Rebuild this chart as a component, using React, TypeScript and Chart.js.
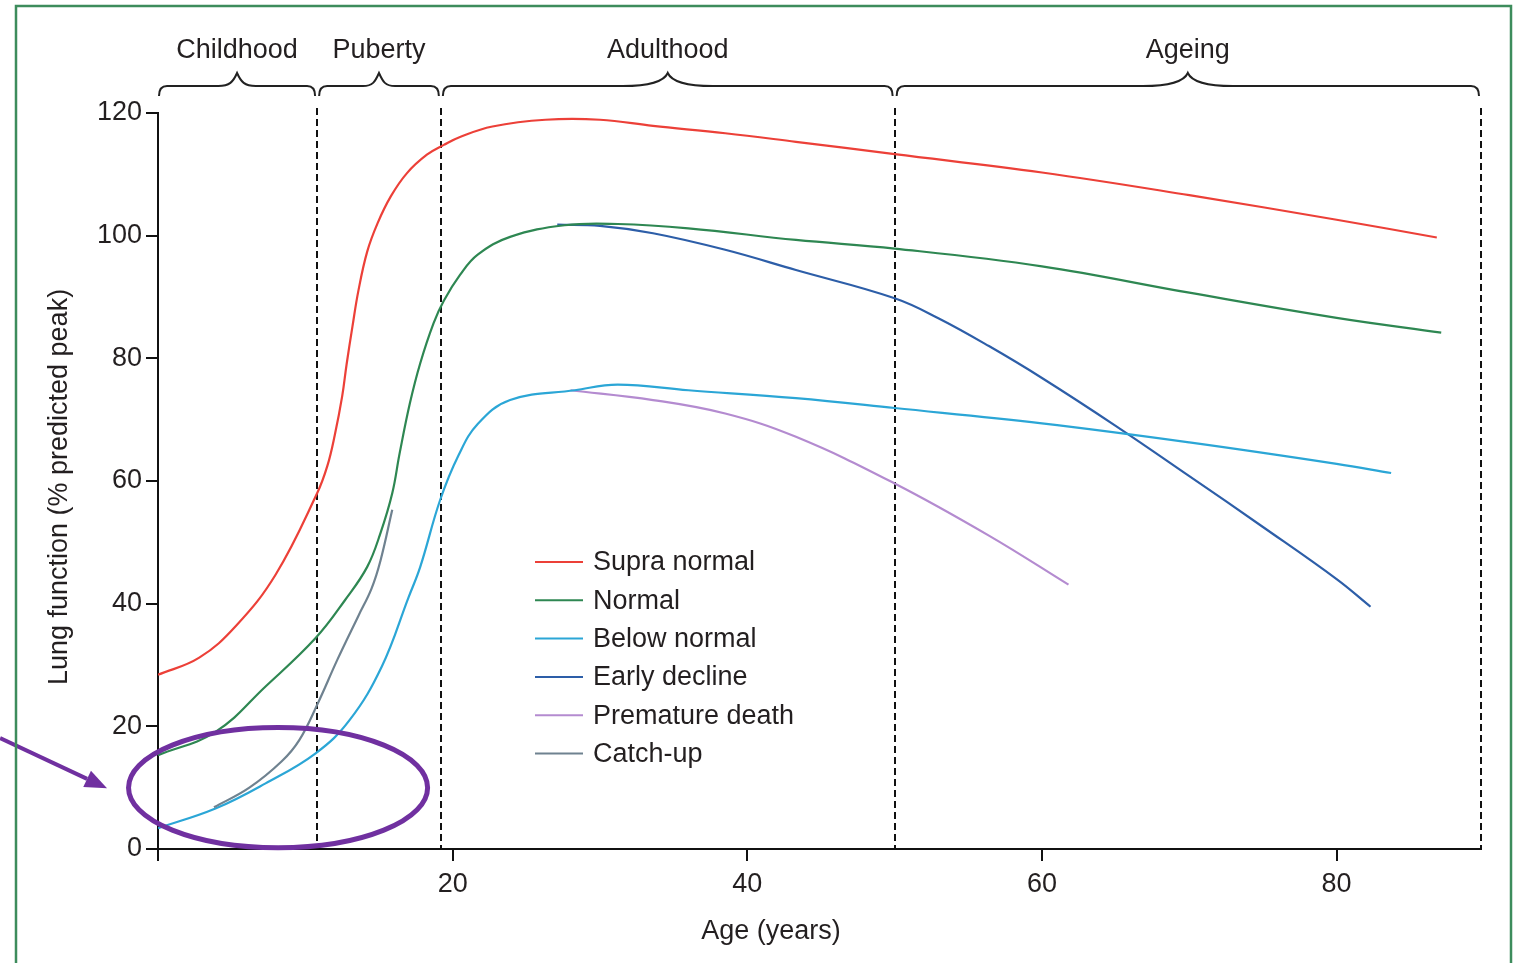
import React, { useEffect, useRef } from 'react';
import { Chart, registerables } from 'chart.js';

Chart.register(...registerables);

// ---- Data (age in years, lung function in % predicted peak) ----
const supraAge = [0, 2.8, 5.3, 8.0, 10.8, 11.5, 12.0, 12.5, 12.8, 13.2, 13.6, 14.2, 14.9, 15.8, 16.9, 18.25, 19.4, 20.5, 22.7, 26.3, 30.0, 33.6, 38.5, 43.3, 50.0, 60.0, 70.0, 80.0, 86.8];
const supraVal = [28.4, 31.2, 36.4, 44.8, 58.0, 62.5, 67.5, 73.8, 79.0, 85.2, 91.0, 97.4, 102.0, 106.4, 110.2, 113.2, 114.8, 116.1, 117.8, 118.9, 118.9, 117.9, 116.7, 115.3, 113.3, 110.3, 106.6, 102.6, 99.7];

const normalAge = [0, 3.9, 7.3, 10.7, 12.7, 14.2, 15.1, 15.9, 16.4, 17.1, 17.8, 18.7, 19.4, 20.5, 21.7, 23.9, 27.6, 31.2, 36.0, 43.3, 50.0, 60.0, 70.0, 80.0, 87.1];
const normalVal = [15.3, 19.1, 26.5, 34.4, 40.6, 46.0, 51.5, 58.0, 64.5, 72.7, 79.2, 85.7, 89.4, 93.6, 96.9, 99.8, 101.7, 101.9, 101.2, 99.3, 97.9, 95.0, 90.7, 86.6, 84.2];

const belowAge = [0, 3.9, 7.3, 10.7, 13.0, 15.2, 17.0, 17.8, 19.15, 20.4, 21.7, 23.9, 28.3, 31.2, 36.0, 43.3, 50.0, 60.0, 70.0, 80.0, 83.7];
const belowVal = [3.4, 6.6, 10.7, 15.6, 21.0, 29.8, 41.0, 46.0, 56.9, 64.2, 69.3, 73.2, 74.8, 75.7, 74.8, 73.5, 71.9, 69.4, 66.3, 62.8, 61.3];

const earlyAge = [27.1, 30.0, 33.6, 38.5, 43.3, 50.0, 53.0, 56.4, 60.0, 65.0, 70.0, 75.0, 80.0, 82.3];
const earlyVal = [101.8, 101.6, 100.4, 97.7, 94.4, 89.8, 86.5, 82.0, 76.8, 69.0, 60.8, 52.5, 44.0, 39.5];

const prematureAge = [28.0, 33.6, 38.5, 43.3, 50.0, 56.4, 61.8];
const prematureVal = [74.8, 73.2, 71.0, 67.2, 59.6, 51.1, 43.1];

const catchAge = [3.8, 6.2, 8.4, 9.6, 10.8, 12.2, 13.6, 14.5, 15.1, 15.9];
const catchVal = [6.8, 10.0, 14.3, 17.8, 23.5, 31.0, 38.0, 42.5, 47.0, 55.3];

const seriesLabels = ['Supra normal', 'Normal', 'Below normal', 'Early decline', 'Premature death', 'Catch-up'];
const seriesColors = ['#ec4038', '#2e8752', '#2ba6d6', '#2d5ea8', '#b48bd0', '#6f8290'];

const phaseLabels = ['Childhood', 'Puberty', 'Adulthood', 'Ageing'];
const phaseBounds = [0, 10.8, 19.2, 50, 89.8];

const xTicks = [0, 20, 40, 60, 80];
const yTicks = [0, 20, 40, 60, 80, 100, 120];

const xTitle = 'Age (years)';
const yTitle = 'Lung function (% predicted peak)';

const FONT = '"Liberation Sans", Arial, sans-serif';
const TEXT = '#231f20';

const toPts = (a: number[], v: number[]) => a.map((x, i) => ({ x, y: v[i] }));

const decorPlugin = {
  id: 'decor',
  beforeDatasetsDraw(chart: any) {
    const { ctx, chartArea, scales } = chart;
    const x = scales.x;
    ctx.save();
    ctx.strokeStyle = '#111';
    ctx.lineWidth = 2;
    ctx.setLineDash([7, 4]);
    for (let i = 1; i < phaseBounds.length; i++) {
      const px = Math.round(x.getPixelForValue(phaseBounds[i]));
      ctx.beginPath();
      ctx.moveTo(px, chartArea.top - 5);
      ctx.lineTo(px, chartArea.bottom);
      ctx.stroke();
    }
    ctx.restore();
  },
  afterDraw(chart: any) {
    const { ctx, chartArea, scales } = chart;
    const x = scales.x;
    const y = scales.y;
    ctx.save();

    // Axis titles
    ctx.fillStyle = TEXT;
    ctx.font = `27px ${FONT}`;
    ctx.textAlign = 'center';
    ctx.textBaseline = 'middle';
    ctx.fillText(xTitle, 771, 932);
    ctx.save();
    ctx.translate(60, 487);
    ctx.rotate(-Math.PI / 2);
    ctx.fillText(yTitle, 0, 0);
    ctx.restore();

    // Phase braces and labels
    const by = chartArea.top - 27;
    for (let i = 0; i < phaseLabels.length; i++) {
      const x0 = x.getPixelForValue(phaseBounds[i]) + (i === 0 ? 1 : 2);
      const x1 = x.getPixelForValue(phaseBounds[i + 1]) - 2;
      const mid = (x0 + x1) / 2;
      const len = x1 - x0;
      const hw = Math.max(16, Math.min(45, len * 0.12));
      ctx.strokeStyle = '#222';
      ctx.lineWidth = 2;
      ctx.setLineDash([]);
      ctx.beginPath();
      ctx.moveTo(x0, by + 10);
      ctx.quadraticCurveTo(x0, by, x0 + 8, by);
      ctx.lineTo(mid - hw, by);
      ctx.bezierCurveTo(mid - hw * 0.4, by, mid - 4, by - 4, mid, by - 13);
      ctx.bezierCurveTo(mid + 4, by - 4, mid + hw * 0.4, by, mid + hw, by);
      ctx.lineTo(x1 - 8, by);
      ctx.quadraticCurveTo(x1, by, x1, by + 10);
      ctx.stroke();

      ctx.fillStyle = TEXT;
      ctx.font = `27px ${FONT}`;
      ctx.textAlign = 'center';
      ctx.textBaseline = 'alphabetic';
      ctx.fillText(phaseLabels[i], mid, by - 28);
    }

    // Legend
    const lx = 535;
    const ly = 562;
    const step = 38.3;
    chart.data.datasets.forEach((ds: any, i: number) => {
      const yy = ly + i * step;
      ctx.strokeStyle = ds.borderColor;
      ctx.lineWidth = 2;
      ctx.beginPath();
      ctx.moveTo(lx, yy);
      ctx.lineTo(lx + 48, yy);
      ctx.stroke();
      ctx.fillStyle = TEXT;
      ctx.font = `27px ${FONT}`;
      ctx.textAlign = 'left';
      ctx.textBaseline = 'middle';
      ctx.fillText(ds.label, lx + 58, yy + 1);
    });

    // Highlight ellipse (in data units)
    const cx = x.getPixelForValue(8.15);
    const cy = y.getPixelForValue(10.0);
    const rx = x.getPixelForValue(8.15 + 10.15) - cx;
    const ry = cy - y.getPixelForValue(10.0 + 9.8);
    ctx.strokeStyle = '#7030a0';
    ctx.lineWidth = 5;
    ctx.beginPath();
    ctx.ellipse(cx, cy, rx, ry, 0, 0, Math.PI * 2);
    ctx.stroke();

    // Arrow
    const ax0 = x.getPixelForValue(-10.72);
    const ay0 = y.getPixelForValue(18.1);
    const ax1 = x.getPixelForValue(-3.46);
    const ay1 = y.getPixelForValue(9.9);
    const ang = Math.atan2(ay1 - ay0, ax1 - ax0);
    const hl = 22;
    const hwid = 9;
    const bx = ax1 - hl * Math.cos(ang);
    const byy = ay1 - hl * Math.sin(ang);
    ctx.lineWidth = 4;
    ctx.beginPath();
    ctx.moveTo(ax0, ay0);
    ctx.lineTo(bx, byy);
    ctx.stroke();
    ctx.fillStyle = '#7030a0';
    ctx.beginPath();
    ctx.moveTo(ax1, ay1);
    ctx.lineTo(bx + hwid * Math.sin(ang), byy - hwid * Math.cos(ang));
    ctx.lineTo(bx - hwid * Math.sin(ang), byy + hwid * Math.cos(ang));
    ctx.closePath();
    ctx.fill();

    // Frame
    ctx.strokeStyle = '#3d8c5c';
    ctx.lineWidth = 2.5;
    ctx.strokeRect(16, 6, 1495, 1000);

    ctx.restore();
  },
};

export default function App() {
  const ref = useRef<HTMLCanvasElement | null>(null);

  useEffect(() => {
    if (!ref.current) return;
    const allAges = [supraAge, normalAge, belowAge, earlyAge, prematureAge, catchAge];
    const allVals = [supraVal, normalVal, belowVal, earlyVal, prematureVal, catchVal];
    const datasets = seriesLabels.map((label, i) => ({
      label,
      data: toPts(allAges[i], allVals[i]),
      borderColor: seriesColors[i],
      backgroundColor: seriesColors[i],
      borderWidth: 2.2,
      pointRadius: 0,
      fill: false,
      tension: 0.4,
      order: i === 5 ? -1 : i,
    }));

    const chart = new Chart(ref.current, {
      type: 'line',
      data: { datasets },
      options: {
        responsive: false,
        animation: false,
        devicePixelRatio: 1,
        layout: { padding: { left: 0, right: 38, top: 113, bottom: 0 } },
        plugins: { legend: { display: false }, tooltip: { enabled: false } },
        scales: {
          x: {
            type: 'linear',
            min: 0,
            max: phaseBounds[phaseBounds.length - 1],
            afterBuildTicks: (s: any) => { s.ticks = xTicks.map((v) => ({ value: v })); },
            afterFit: (s: any) => { s.height = 114; },
            ticks: {
              autoSkip: false,
              maxRotation: 0,
              padding: 7,
              color: TEXT,
              font: { family: FONT, size: 27 },
              callback: (v: any) => (v === 0 ? '' : String(v)),
            },
            grid: { drawOnChartArea: false, drawTicks: true, tickLength: 12, color: '#111', lineWidth: 2 },
            border: { display: true, color: '#111', width: 2 },
          },
          y: {
            type: 'linear',
            min: 0,
            max: 120,
            afterBuildTicks: (s: any) => { s.ticks = yTicks.map((v) => ({ value: v })); },
            afterFit: (s: any) => { s.width = 158; },
            ticks: {
              padding: 4,
              color: TEXT,
              font: { family: FONT, size: 27 },
            },
            grid: { drawOnChartArea: false, drawTicks: true, tickLength: 12, color: '#111', lineWidth: 2 },
            border: { display: true, color: '#111', width: 2 },
          },
        },
      },
      plugins: [decorPlugin],
    });
    return () => chart.destroy();
  }, []);

  return (
    <div style={{ position: 'absolute', left: 0, top: 0, width: 1519, height: 963, background: '#fff' }}>
      <canvas ref={ref} width={1519} height={963} style={{ display: 'block' }} />
    </div>
  );
}
